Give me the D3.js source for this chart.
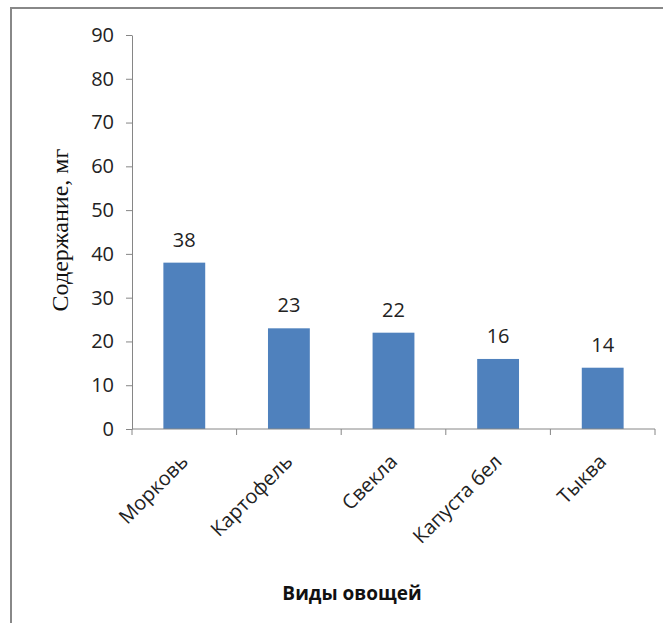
<!DOCTYPE html>
<html><head><meta charset="utf-8">
<script src="https://cdn.jsdelivr.net/npm/d3@7"></script>
<style>body{margin:0;background:#fff}</style>
</head><body>
<script>
const categories = ["Морковь","Картофель","Свекла","Капуста бел","Тыква"];
const values = [38,23,22,16,14];
const yTicks = [0,10,20,30,40,50,60,70,80,90];
const yTitle = "Содержание, мг";
const xTitle = "Виды овощей";

const W=663,H=623;
const svg=d3.select("body").append("svg").attr("width",W).attr("height",H);
svg.append("rect").attr("width",W).attr("height",H).attr("fill","#fff");
// outer chart border (top and left visible)
svg.append("path").attr("d",`M11,${H} L11,8 L${W},8`).attr("fill","none").attr("stroke","#888").attr("stroke-width",2);

const x0=132,x1=655,yTop=35,yBase=429;
const x=d3.scaleBand().domain(categories).range([x0,x1]).paddingInner(0.6).paddingOuter(0.3);
const y=d3.scaleLinear().domain([0,90]).range([yBase,yTop]);
const axisColor="#868686";
const font="'Open Sans', sans-serif";

// bars
svg.selectAll("rect.bar").data(values).enter().append("rect")
  .attr("x",(d,i)=>x(categories[i])).attr("width",x.bandwidth())
  .attr("y",d=>y(d)).attr("height",d=>y(0)-y(d)).attr("fill","#4F81BD");

// y axis
const ya=svg.append("g").attr("transform",`translate(${x0},0)`)
  .call(d3.axisLeft(y).tickValues(yTicks).tickSize(6).tickSizeOuter(0).tickPadding(12));
ya.select(".domain").attr("stroke",axisColor);
ya.selectAll(".tick line").attr("stroke",axisColor);
ya.selectAll(".tick text").attr("font-family",font).attr("font-size",20).attr("fill","#222");

// x axis line and boundary ticks
const step=x.step();
const bounds=d3.range(categories.length+1).map(i=>x0+i*(x1-x0)/categories.length);
svg.append("line").attr("x1",x0).attr("x2",x1).attr("y1",yBase).attr("y2",yBase).attr("stroke",axisColor);
svg.selectAll("line.xt").data(bounds).enter().append("line")
  .attr("x1",d=>d).attr("x2",d=>d).attr("y1",yBase).attr("y2",yBase+6).attr("stroke",axisColor);

// category labels
svg.selectAll("text.cat").data(categories).enter().append("text")
  .attr("transform",d=>`translate(${x(d)+x.bandwidth()/2+5},463) rotate(-45)`)
  .attr("text-anchor","end").attr("font-family",font).attr("font-size",20).attr("fill","#222")
  .text(d=>d);

// data labels
svg.selectAll("text.val").data(values).enter().append("text")
  .attr("x",(d,i)=>x(categories[i])+x.bandwidth()/2).attr("y",d=>y(d)-16)
  .attr("text-anchor","middle").attr("font-family",font).attr("font-size",20).attr("fill","#222")
  .text(d=>d);

// axis titles
svg.append("text").attr("transform","translate(68,230) rotate(-90)")
  .attr("text-anchor","middle").attr("font-family","'Liberation Serif', serif").attr("font-size",24).attr("fill","#111")
  .text(yTitle);
svg.append("text").attr("x",352).attr("y",600)
  .attr("text-anchor","middle").attr("font-family",font).attr("font-weight","bold").attr("font-size",19).attr("fill","#111")
  .text(xTitle);
</script>
</body></html>
